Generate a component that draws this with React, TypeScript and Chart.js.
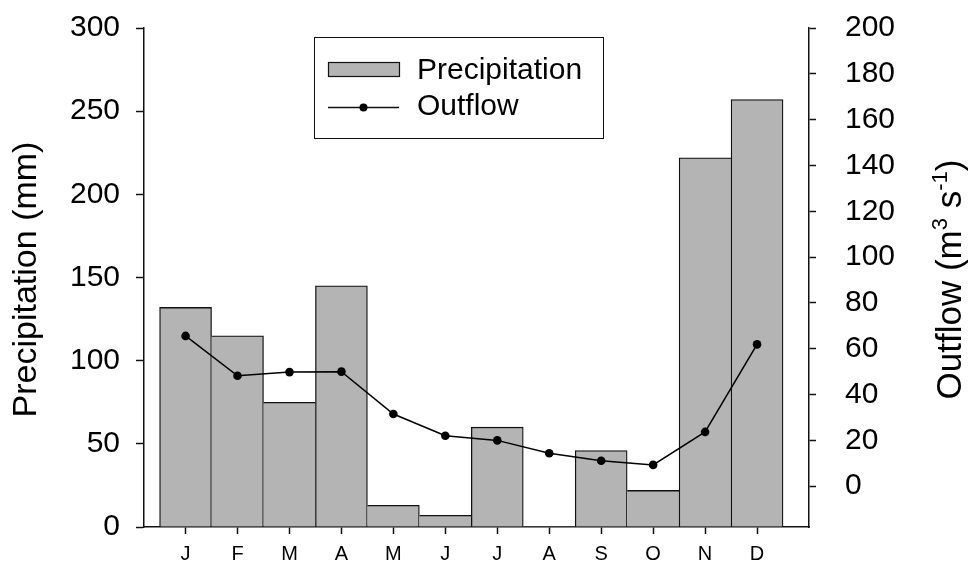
import React, { useEffect, useRef } from "react";
import { Chart, registerables } from "chart.js";

Chart.register(...registerables);

const months = ["J", "F", "M", "A", "M", "J", "J", "A", "S", "O", "N", "D"];
const monthIndex = [1, 2, 3, 4, 5, 6, 7, 8, 9, 10, 11, 12];
const precipitation = [132, 115, 75, 145, 13, 7, 60, 0, 46, 22, 222, 257];
const outflow = [65.6, 48.2, 49.8, 50.0, 31.5, 22.0, 20.0, 14.4, 11.1, 9.3, 23.7, 61.9];
const leftTicks = [0, 50, 100, 150, 200, 250, 300];
const rightTicks = [0, 20, 40, 60, 80, 100, 120, 140, 160, 180, 200];

const FONT = '"Liberation Sans", Arial, sans-serif';
const BAR_FILL = "#b4b4b4";
const INK = "#111111";

const overlay = {
  id: "overlay",
  afterDraw(chart: any) {
    const { ctx, chartArea: a } = chart;
    ctx.save();
    ctx.fillStyle = "#000";
    ctx.textBaseline = "alphabetic";

    // Left axis title
    ctx.save();
    ctx.font = `34px ${FONT}`;
    ctx.translate(a.left - 108, (a.top + a.bottom) / 2 + 2);
    ctx.rotate(-Math.PI / 2);
    ctx.textAlign = "center";
    ctx.fillText("Precipitation (mm)", 0, 0);
    ctx.restore();

    // Right axis title with superscripts
    ctx.save();
    const big = `35px ${FONT}`;
    const small = `22px ${FONT}`;
    const parts: [string, boolean][] = [
      ["Outflow (m", false],
      ["3", true],
      [" s", false],
      ["-1", true],
      [")", false],
    ];
    let total = 0;
    for (const [t, sup] of parts) {
      ctx.font = sup ? small : big;
      total += ctx.measureText(t).width;
    }
    ctx.translate(a.right + 152, (a.top + a.bottom) / 2 + 2);
    ctx.rotate(-Math.PI / 2);
    ctx.textAlign = "left";
    let x = -total / 2;
    for (const [t, sup] of parts) {
      ctx.font = sup ? small : big;
      ctx.fillText(t, x, sup ? -14 : 0);
      x += ctx.measureText(t).width;
    }
    ctx.restore();

    // Legend
    const lx = a.left + 170;
    const ly = a.top + 9;
    const lw = 289;
    const lh = 101;
    ctx.fillStyle = "#fff";
    ctx.fillRect(lx, ly, lw, lh);
    ctx.strokeStyle = INK;
    ctx.lineWidth = 1;
    ctx.strokeRect(lx + 0.5, ly + 0.5, lw, lh);

    // Precipitation swatch
    ctx.fillStyle = BAR_FILL;
    ctx.fillRect(lx + 14, ly + 25, 71, 14);
    ctx.lineWidth = 1.2;
    ctx.strokeRect(lx + 14.5, ly + 25.5, 71, 14);
    // Outflow line + marker
    ctx.beginPath();
    ctx.lineWidth = 1.5;
    ctx.moveTo(lx + 14, ly + 70.5);
    ctx.lineTo(lx + 85, ly + 70.5);
    ctx.stroke();
    ctx.beginPath();
    ctx.fillStyle = "#000";
    ctx.arc(lx + 49.5, ly + 70.5, 4, 0, Math.PI * 2);
    ctx.fill();

    ctx.font = `30px ${FONT}`;
    ctx.textAlign = "left";
    ctx.fillStyle = "#000";
    ctx.fillText("Precipitation", lx + 103, ly + 42);
    ctx.fillText("Outflow", lx + 103, ly + 78);

    ctx.restore();
  },
};

export default function App() {
  const ref = useRef<HTMLCanvasElement | null>(null);

  useEffect(() => {
    if (!ref.current) return;
    const chart = new Chart(ref.current, {
      type: "bar",
      data: {
        datasets: [
          {
            type: "line",
            label: "Outflow",
            data: monthIndex.map((m, i) => ({ x: m, y: outflow[i] })),
            yAxisID: "y1",
            xAxisID: "x",
            borderColor: "#000",
            borderWidth: 1.5,
            pointRadius: 4.3,
            pointBackgroundColor: "#000",
            pointBorderWidth: 0,
            tension: 0,
            order: 0,
          } as any,
          {
            type: "bar",
            label: "Precipitation",
            data: monthIndex.map((m, i) => ({ x: m, y: precipitation[i] })),
            yAxisID: "y",
            xAxisID: "x",
            backgroundColor: BAR_FILL,
            borderColor: INK,
            borderWidth: (c: any) => {
              const i = c.dataIndex;
              const v = precipitation[i];
              const prev = precipitation[i - 1];
              const next = precipitation[i + 1];
              return {
                top: 1.3,
                bottom: 0,
                left: prev === undefined || prev <= v ? 1.3 : 0,
                right: next === undefined || next < v ? 1.3 : 0,
              };
            },
            borderSkipped: "bottom",
            categoryPercentage: 1,
            barPercentage: 1,
            order: 1,
          } as any,
        ],
      },
      options: {
        animation: false,
        responsive: false,
        devicePixelRatio: 1,
        layout: { padding: { top: 28, left: 0, right: 0, bottom: 0 } },
        plugins: {
          legend: { display: false },
          tooltip: { enabled: false },
        },
        scales: {
          x: {
            type: "linear",
            min: 0.2,
            max: 13,
            offset: false,
            grid: {
              offset: false,
              drawOnChartArea: false,
              drawTicks: true,
              tickLength: 7,
              tickColor: INK,
              tickWidth: 1.5,
            },
            border: { display: true, color: INK, width: 1.5 },
            ticks: {
              autoSkip: false,
              maxRotation: 0,
              minRotation: 0,
              padding: 8,
              color: "#000",
              font: { family: FONT, size: 20 },
              callback: (v: any) => months[Number(v) - 1] ?? "",
            },
            afterBuildTicks: (s: any) => {
              s.ticks = monthIndex.map((v) => ({ value: v }));
            },
            afterFit: (s: any) => {
              s.height = 34;
              s.paddingLeft = 0;
              s.paddingRight = 0;
            },
          },
          y: {
            type: "linear",
            position: "left",
            min: 0,
            max: 300,
            grid: {
              drawOnChartArea: false,
              drawTicks: true,
              tickLength: 8,
              tickColor: INK,
              tickWidth: 1.5,
            },
            border: { display: true, color: INK, width: 1.5 },
            ticks: {
              padding: 16,
              color: "#000",
              font: { family: FONT, size: 30 },
            },
            afterBuildTicks: (s: any) => {
              s.ticks = leftTicks.map((v) => ({ value: v }));
            },
            afterFit: (s: any) => {
              s.width = 144;
              s.paddingTop = 0;
              s.paddingBottom = 0;
            },
          },
          y1: {
            type: "linear",
            position: "right",
            min: -17.8,
            max: 200,
            grid: {
              drawOnChartArea: false,
              drawTicks: true,
              tickLength: 7,
              tickColor: INK,
              tickWidth: 1.5,
            },
            border: { display: true, color: INK, width: 1.5 },
            ticks: {
              padding: 29,
              color: "#000",
              font: { family: FONT, size: 30 },
            },
            afterBuildTicks: (s: any) => {
              s.ticks = rightTicks.map((v) => ({ value: v }));
            },
            afterFit: (s: any) => {
              s.width = 159;
              s.paddingTop = 0;
              s.paddingBottom = 0;
            },
          },
        },
      },
      plugins: [overlay],
    });
    return () => chart.destroy();
  }, []);

  return (
    <div style={{ position: "fixed", left: 0, top: 0, width: 968, height: 561, background: "#fff" }}>
      <canvas ref={ref} width={968} height={561} style={{ display: "block" }} />
    </div>
  );
}
